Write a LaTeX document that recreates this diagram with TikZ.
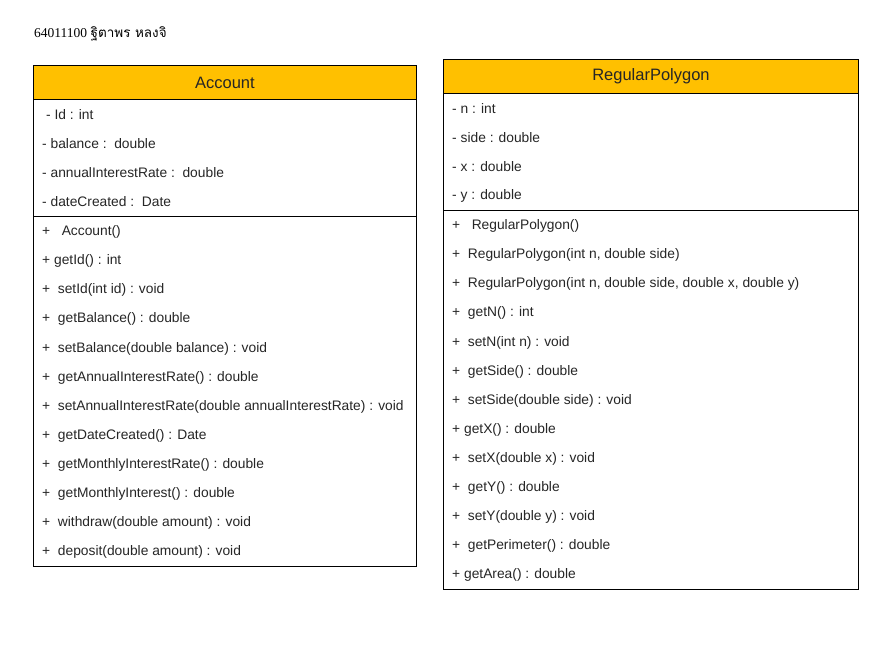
\documentclass[tikz,border=0pt]{standalone}
\usepackage{fontspec}
\setmainfont{Liberation Sans}
\newfontfamily\titlefont{Liberation Serif}
\newfontfamily\thaifont[Script=Thai]{Loma}
\definecolor{hdr}{HTML}{FFC000}
\begin{document}
\begin{tikzpicture}[x=1pt,y=-1pt,
  boxpart/.style={draw=black,line width=0.9pt,rectangle,inner sep=0pt,anchor=north west},
  hdrtext/.style={font=\fontsize{16.5}{18}\selectfont,text=black!85},
  row/.style={anchor=west,inner sep=0pt,font=\fontsize{13.8}{15}\selectfont,text=black!85}]
\useasboundingbox (0,0) rectangle (887,672);
\fill[white] (0,0) rectangle (887,672);
\node[anchor=west,inner sep=0pt] (title) at (34,34) {\fontsize{13.5}{15}\titlefont 64011100 \thaifont\fontsize{13.5}{15}\selectfont ฐิตาพร หลงจิ};
% Account
\node[boxpart,minimum width=383pt,minimum height=34pt,fill=hdr] (acch) at (33,65) {};
\node[hdrtext] (accname) at (acch.center) {Account};
\node[boxpart,minimum width=383pt,minimum height=117pt] (acca) at (33,99) {};
\node[boxpart,minimum width=383pt,minimum height=350pt] (accm) at (33,216) {};
\node[row] (a1) at (46,115) {- Id : int};
\node[row] (a2) at (42,144) {- balance :\ \ double};
\node[row] (a3) at (42,173) {- annualInterestRate :\ \ double};
\node[row] (a4) at (42,202) {- dateCreated :\ \ Date};
\node[row] (m1) at (42,232) {+\ \ \ Account()};
\node[row] (m2) at (42,261) {+ getId() : int};
\node[row] (m3) at (42,290) {+\ \ setId(int id) : void};
\node[row] (m4) at (42,319) {+\ \ getBalance() : double};
\node[row] (m5) at (42,349) {+\ \ setBalance(double balance) : void};
\node[row] (m6) at (42,378) {+\ \ getAnnualInterestRate() : double};
\node[row] (m7) at (42,407) {+\ \ setAnnualInterestRate(double annualInterestRate) : void};
\node[row] (m8) at (42,436) {+\ \ getDateCreated() : Date};
\node[row] (m9) at (42,465) {+\ \ getMonthlyInterestRate() : double};
\node[row] (m10) at (42,494) {+\ \ getMonthlyInterest() : double};
\node[row] (m11) at (42,523) {+\ \ withdraw(double amount) : void};
\node[row] (m12) at (42,552) {+\ \ deposit(double amount) : void};
% RegularPolygon
\node[boxpart,minimum width=415pt,minimum height=34pt,fill=hdr] (rph) at (443,59) {};
\node[hdrtext] (rpname) at (rph.center) {RegularPolygon};
\node[boxpart,minimum width=415pt,minimum height=117pt] (rpa) at (443,93) {};
\node[boxpart,minimum width=415pt,minimum height=379pt] (rpm) at (443,210) {};
\node[row] (r1) at (452,109) {- n : int};
\node[row] (r2) at (452,138) {- side : double};
\node[row] (r3) at (452,167) {- x : double};
\node[row] (r4) at (452,196) {- y : double};
\node[row] (p1) at (452,226) {+\ \ \ RegularPolygon()};
\node[row] (p2) at (452,255) {+\ \ RegularPolygon(int n, double side)};
\node[row] (p3) at (452,284) {+\ \ RegularPolygon(int n, double side, double x, double y)};
\node[row] (p4) at (452,313) {+\ \ getN() : int};
\node[row] (p5) at (452,343) {+\ \ setN(int n) : void};
\node[row] (p6) at (452,372) {+\ \ getSide() : double};
\node[row] (p7) at (452,401) {+\ \ setSide(double side) : void};
\node[row] (p8) at (452,430) {+ getX() : double};
\node[row] (p9) at (452,459) {+\ \ setX(double x) : void};
\node[row] (p10) at (452,488) {+\ \ getY() : double};
\node[row] (p11) at (452,517) {+\ \ setY(double y) : void};
\node[row] (p12) at (452,546) {+\ \ getPerimeter() : double};
\node[row] (p13) at (452,575) {+ getArea() : double};
\end{tikzpicture}
\end{document}
